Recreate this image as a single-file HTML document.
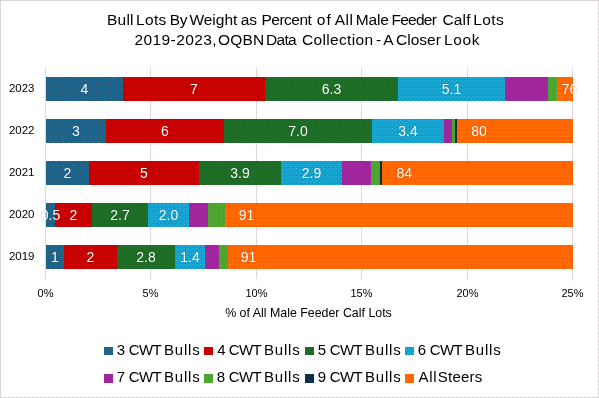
<!DOCTYPE html>
<html><head><meta charset="utf-8"><style>
html,body{margin:0;padding:0;}
body{width:599px;height:398px;overflow:hidden;background:#fff;position:relative;font-family:"Liberation Sans",sans-serif;}
#root{position:absolute;left:0;top:0;width:599px;height:398px;will-change:transform;}
.fb{position:absolute;}
.fv{width:1px;background:repeating-linear-gradient(to bottom,#D8CCCF 0 2px,#DCE2E2 2px 4px);}
.fh{height:1px;background:repeating-linear-gradient(to right,#D8CCCF 0 2px,#DCE2E2 2px 4px);}
.t{position:absolute;left:7.5px;width:599px;text-align:center;color:#000;font-size:15.5px;white-space:nowrap;line-height:20px;}
.gl{position:absolute;top:68px;height:211px;width:1px;background:repeating-linear-gradient(to bottom,#D9CBCE 0 1px,#DDE7E7 1px 2px);}
.tw{position:absolute;font-size:15.5px;line-height:20px;color:#000;white-space:nowrap;}
.bars{position:absolute;left:0;top:0;}
.c3{background:#17658C;} .c4{background:#CC0000;} .c5{background:#1E6D26;} .c6{background:#0FA0D6;}
.c7{background:#A0259F;} .c8{background:#4CA52F;} .c9{background:#102E48;} .cs{background:#FF6600;}
.lbl{position:absolute;width:60px;height:24px;line-height:24px;text-align:center;color:#fff;font-size:14px;white-space:nowrap;text-shadow:0 0 1.2px rgba(0,0,0,.35);}
.yl{position:absolute;left:0;width:34.5px;height:24px;line-height:22px;text-align:right;color:#000;font-size:11.5px;}
.xl{position:absolute;top:284px;width:60px;text-align:center;font-size:11px;color:#000;line-height:18px;}
.xt{position:absolute;top:304px;left:0;width:617px;text-align:center;font-size:12.4px;color:#000;line-height:18px;}
.lsq{position:absolute;width:9px;height:8px;}
.ltx{position:absolute;font-size:15px;line-height:20px;color:#000;white-space:nowrap;}
</style></head>
<body><div id="root">
<div class="fb fh" style="left:0;top:0;width:599px;background:#D9D9D9"></div><div class="fb fv" style="left:0;top:0;height:398px"></div><div class="fb fv" style="left:598px;top:0;height:398px"></div><div class="fb fh" style="left:0;top:397px;width:599px"></div>
<span class="tw" style="left:107.00px;top:10px;letter-spacing:0.23px">Bull</span><span class="tw" style="left:136.00px;top:10px;letter-spacing:0.33px">Lots</span><span class="tw" style="left:169.70px;top:10px;letter-spacing:-0.30px">By</span><span class="tw" style="left:189.40px;top:10px;letter-spacing:0.00px">Weight</span><span class="tw" style="left:240.70px;top:10px;letter-spacing:0.00px">as</span><span class="tw" style="left:261.50px;top:10px;letter-spacing:-0.50px">Percent</span><span class="tw" style="left:316.80px;top:10px;letter-spacing:1.00px">of</span><span class="tw" style="left:334.70px;top:10px;letter-spacing:0.50px">All</span><span class="tw" style="left:355.70px;top:10px;letter-spacing:-0.10px">Male</span><span class="tw" style="left:391.60px;top:10px;letter-spacing:-0.78px">Feeder</span><span class="tw" style="left:442.40px;top:10px;letter-spacing:0.20px">Calf</span><span class="tw" style="left:473.30px;top:10px;letter-spacing:0.40px">Lots</span><span class="tw" style="left:134.60px;top:30px;letter-spacing:0.38px">2019-2023,</span><span class="tw" style="left:218.00px;top:30px;letter-spacing:0.20px">OQBN</span><span class="tw" style="left:266.00px;top:30px;letter-spacing:-0.67px">Data</span><span class="tw" style="left:302.00px;top:30px;letter-spacing:0.33px">Collection</span><span class="tw" style="left:376.00px;top:30px;letter-spacing:0.00px">-</span><span class="tw" style="left:383.30px;top:30px;letter-spacing:0.00px">A</span><span class="tw" style="left:396.00px;top:30px;letter-spacing:0.00px">Closer</span><span class="tw" style="left:444.00px;top:30px;letter-spacing:0.67px">Look</span>
<div class="gl" style="left:45px"></div>
<div class="gl" style="left:150px"></div>
<div class="gl" style="left:256px"></div>
<div class="gl" style="left:361px"></div>
<div class="gl" style="left:467px"></div>
<div class="gl" style="left:572px"></div>
<svg class="bars" width="599" height="398" viewBox="0 0 599 398" shape-rendering="crispEdges"><defs><pattern id="p3" patternUnits="userSpaceOnUse" width="10" height="8"><rect width="10" height="8" fill="#17658C"/><rect x="1" y="1" width="1" height="1" fill="#3A7C9C"/><rect x="6" y="2" width="1" height="1" fill="#4F5A7E"/><rect x="3" y="5" width="1" height="1" fill="#4A88A6"/><rect x="8" y="6" width="1" height="1" fill="#3F6468"/><rect x="5" y="0" width="1" height="1" fill="#2E7090"/><rect x="0" y="4" width="1" height="1" fill="#4E5676"/></pattern><pattern id="p4" patternUnits="userSpaceOnUse" width="4" height="4"><rect width="4" height="4" fill="#CC0000"/><rect x="0" y="0" width="1" height="1" fill="#D80000"/><rect x="1" y="0" width="1" height="1" fill="#B80000"/><rect x="2" y="0" width="1" height="1" fill="#D80000"/><rect x="3" y="0" width="1" height="1" fill="#B80000"/><rect x="0" y="1" width="1" height="1" fill="#D80000"/><rect x="1" y="1" width="1" height="1" fill="#B80000"/><rect x="2" y="1" width="1" height="1" fill="#B80000"/><rect x="3" y="1" width="1" height="1" fill="#D80000"/><rect x="0" y="2" width="1" height="1" fill="#B80000"/><rect x="1" y="2" width="1" height="1" fill="#D80000"/><rect x="2" y="2" width="1" height="1" fill="#B80000"/><rect x="3" y="2" width="1" height="1" fill="#D80000"/><rect x="0" y="3" width="1" height="1" fill="#B80000"/><rect x="1" y="3" width="1" height="1" fill="#D80000"/><rect x="2" y="3" width="1" height="1" fill="#D80000"/><rect x="3" y="3" width="1" height="1" fill="#B80000"/></pattern><pattern id="p5" patternUnits="userSpaceOnUse" width="6" height="5"><rect width="6" height="5" fill="#1E6D26"/><rect x="1" y="1" width="1" height="1" fill="#23723A"/><rect x="4" y="3" width="1" height="1" fill="#206E30"/></pattern><pattern id="p6" patternUnits="userSpaceOnUse" width="4" height="4"><rect width="4" height="4" fill="#0FA0D6"/><rect x="0" y="0" width="1" height="1" fill="#34BADC"/><rect x="2" y="2" width="1" height="1" fill="#34BADC"/><rect x="1" y="3" width="1" height="1" fill="#1288D8"/><rect x="3" y="1" width="1" height="1" fill="#16A8D0"/></pattern><pattern id="p7" patternUnits="userSpaceOnUse" width="8" height="6"><rect width="8" height="6" fill="#A0259F"/><rect x="2" y="3" width="1" height="1" fill="#A8407E"/><rect x="6" y="4" width="1" height="1" fill="#8A3088"/></pattern><pattern id="p8" patternUnits="userSpaceOnUse" width="5" height="4"><rect width="5" height="4" fill="#4CA52F"/><rect x="1" y="1" width="1" height="1" fill="#5AB25A"/><rect x="3" y="3" width="1" height="1" fill="#44A034"/></pattern><pattern id="ps" patternUnits="userSpaceOnUse" width="4" height="4"><rect width="4" height="4" fill="#FF6600"/><rect x="1" y="0" width="1" height="1" fill="#E8952F"/></pattern></defs><rect x="46" y="77" width="77" height="24" fill="url(#p3)"/><rect x="123" y="77" width="142" height="24" fill="url(#p4)"/><rect x="265" y="77" width="133" height="24" fill="url(#p5)"/><rect x="398" y="77" width="107" height="24" fill="url(#p6)"/><rect x="505" y="77" width="43" height="24" fill="url(#p7)"/><rect x="548" y="77" width="9" height="24" fill="url(#p8)"/><rect x="557" y="77" width="16" height="24" fill="#FF6600"/><rect x="557" y="85" width="16" height="16" fill="url(#ps)"/><rect x="46" y="119" width="60" height="24" fill="url(#p3)"/><rect x="106" y="119" width="118" height="24" fill="url(#p4)"/><rect x="224" y="119" width="148" height="24" fill="url(#p5)"/><rect x="372" y="119" width="72" height="24" fill="url(#p6)"/><rect x="444" y="119" width="8" height="24" fill="url(#p7)"/><rect x="452" y="119" width="3" height="24" fill="url(#p8)"/><rect x="455" y="119" width="2" height="24" fill="#102E48"/><rect x="457" y="119" width="116" height="24" fill="#FF6600"/><rect x="457" y="127" width="116" height="16" fill="url(#ps)"/><rect x="46" y="161" width="43" height="24" fill="url(#p3)"/><rect x="89" y="161" width="110" height="24" fill="url(#p4)"/><rect x="199" y="161" width="82" height="24" fill="url(#p5)"/><rect x="281" y="161" width="61" height="24" fill="url(#p6)"/><rect x="342" y="161" width="29" height="24" fill="url(#p7)"/><rect x="371" y="161" width="9" height="24" fill="url(#p8)"/><rect x="380" y="161" width="2" height="24" fill="#102E48"/><rect x="382" y="161" width="191" height="24" fill="#FF6600"/><rect x="382" y="169" width="191" height="16" fill="url(#ps)"/><rect x="46" y="203" width="9" height="24" fill="url(#p3)"/><rect x="55" y="203" width="37" height="24" fill="url(#p4)"/><rect x="92" y="203" width="56" height="24" fill="url(#p5)"/><rect x="148" y="203" width="41" height="24" fill="url(#p6)"/><rect x="189" y="203" width="19" height="24" fill="url(#p7)"/><rect x="208" y="203" width="17" height="24" fill="url(#p8)"/><rect x="225" y="203" width="348" height="24" fill="#FF6600"/><rect x="225" y="211" width="348" height="16" fill="url(#ps)"/><rect x="46" y="245" width="18" height="24" fill="url(#p3)"/><rect x="64" y="245" width="53" height="24" fill="url(#p4)"/><rect x="117" y="245" width="58" height="24" fill="url(#p5)"/><rect x="175" y="245" width="30" height="24" fill="url(#p6)"/><rect x="205" y="245" width="14" height="24" fill="url(#p7)"/><rect x="219" y="245" width="9" height="24" fill="url(#p8)"/><rect x="228" y="245" width="345" height="24" fill="#FF6600"/><rect x="228" y="253" width="345" height="16" fill="url(#ps)"/><rect x="104" y="347" width="9" height="8" fill="url(#p3)"/><rect x="204" y="347" width="9" height="8" fill="url(#p4)"/><rect x="305" y="347" width="9" height="8" fill="url(#p5)"/><rect x="405" y="347" width="9" height="8" fill="url(#p6)"/><rect x="104" y="374" width="9" height="9" fill="url(#p7)"/><rect x="204" y="374" width="9" height="9" fill="url(#p8)"/><rect x="305" y="374" width="9" height="9" fill="#102E48"/><rect x="405" y="374" width="9" height="9" fill="#FF6600"/></svg>
<div class="lbl" style="left:54.5px;top:77px">4</div>
<div class="lbl" style="left:164.0px;top:77px">7</div>
<div class="lbl" style="left:301.5px;top:77px">6.3</div>
<div class="lbl" style="left:421.5px;top:77px">5.1</div>
<div class="lbl" style="left:539.5px;top:77px">76</div>
<div class="yl" style="top:77px">2023</div>
<div class="lbl" style="left:46.0px;top:119px">3</div>
<div class="lbl" style="left:135.0px;top:119px">6</div>
<div class="lbl" style="left:268.0px;top:119px">7.0</div>
<div class="lbl" style="left:378.0px;top:119px">3.4</div>
<div class="lbl" style="left:449px;top:119px">80</div>
<div class="yl" style="top:119px">2022</div>
<div class="lbl" style="left:37.5px;top:161px">2</div>
<div class="lbl" style="left:114.0px;top:161px">5</div>
<div class="lbl" style="left:210.0px;top:161px">3.9</div>
<div class="lbl" style="left:281.5px;top:161px">2.9</div>
<div class="lbl" style="left:374.3px;top:161px">84</div>
<div class="yl" style="top:161px">2021</div>
<div class="lbl" style="left:20.5px;top:203px">0.5</div>
<div class="lbl" style="left:43.5px;top:203px">2</div>
<div class="lbl" style="left:90.0px;top:203px">2.7</div>
<div class="lbl" style="left:138.5px;top:203px">2.0</div>
<div class="lbl" style="left:216.5px;top:203px">91</div>
<div class="yl" style="top:203px">2020</div>
<div class="lbl" style="left:25.0px;top:245px">1</div>
<div class="lbl" style="left:60.5px;top:245px">2</div>
<div class="lbl" style="left:116.0px;top:245px">2.8</div>
<div class="lbl" style="left:160.0px;top:245px">1.4</div>
<div class="lbl" style="left:218.5px;top:245px">91</div>
<div class="yl" style="top:245px">2019</div>
<div class="xl" style="left:15.5px">0%</div>
<div class="xl" style="left:120.5px">5%</div>
<div class="xl" style="left:226.5px">10%</div>
<div class="xl" style="left:331.5px">15%</div>
<div class="xl" style="left:437.5px">20%</div>
<div class="xl" style="left:542.5px">25%</div>
<span class="ltx" style="left:116.70px;top:340px;letter-spacing:0.00px">3</span>
<span class="ltx" style="left:128.70px;top:340px;letter-spacing:-0.60px">CWT</span>
<span class="ltx" style="left:164.00px;top:340px;letter-spacing:0.80px">Bulls</span>
<span class="ltx" style="left:217.20px;top:340px;letter-spacing:0.00px">4</span>
<span class="ltx" style="left:228.70px;top:340px;letter-spacing:-0.60px">CWT</span>
<span class="ltx" style="left:264.00px;top:340px;letter-spacing:0.80px">Bulls</span>
<span class="ltx" style="left:317.70px;top:340px;letter-spacing:0.00px">5</span>
<span class="ltx" style="left:329.70px;top:340px;letter-spacing:-0.60px">CWT</span>
<span class="ltx" style="left:365.00px;top:340px;letter-spacing:0.80px">Bulls</span>
<span class="ltx" style="left:417.70px;top:340px;letter-spacing:0.00px">6</span>
<span class="ltx" style="left:429.70px;top:340px;letter-spacing:-0.60px">CWT</span>
<span class="ltx" style="left:465.00px;top:340px;letter-spacing:0.80px">Bulls</span>
<span class="ltx" style="left:116.70px;top:367px;letter-spacing:0.00px">7</span>
<span class="ltx" style="left:128.70px;top:367px;letter-spacing:-0.60px">CWT</span>
<span class="ltx" style="left:164.00px;top:367px;letter-spacing:0.80px">Bulls</span>
<span class="ltx" style="left:216.70px;top:367px;letter-spacing:0.00px">8</span>
<span class="ltx" style="left:228.70px;top:367px;letter-spacing:-0.60px">CWT</span>
<span class="ltx" style="left:264.00px;top:367px;letter-spacing:0.80px">Bulls</span>
<span class="ltx" style="left:317.70px;top:367px;letter-spacing:0.00px">9</span>
<span class="ltx" style="left:329.70px;top:367px;letter-spacing:-0.60px">CWT</span>
<span class="ltx" style="left:365.00px;top:367px;letter-spacing:0.80px">Bulls</span>
<span class="ltx" style="left:418.40px;top:367px;letter-spacing:0.80px">All</span>
<span class="ltx" style="left:437.70px;top:367px;letter-spacing:0.26px">Steers</span>
<div class="xt">% of All Male Feeder Calf Lots</div>
</div></body></html>
